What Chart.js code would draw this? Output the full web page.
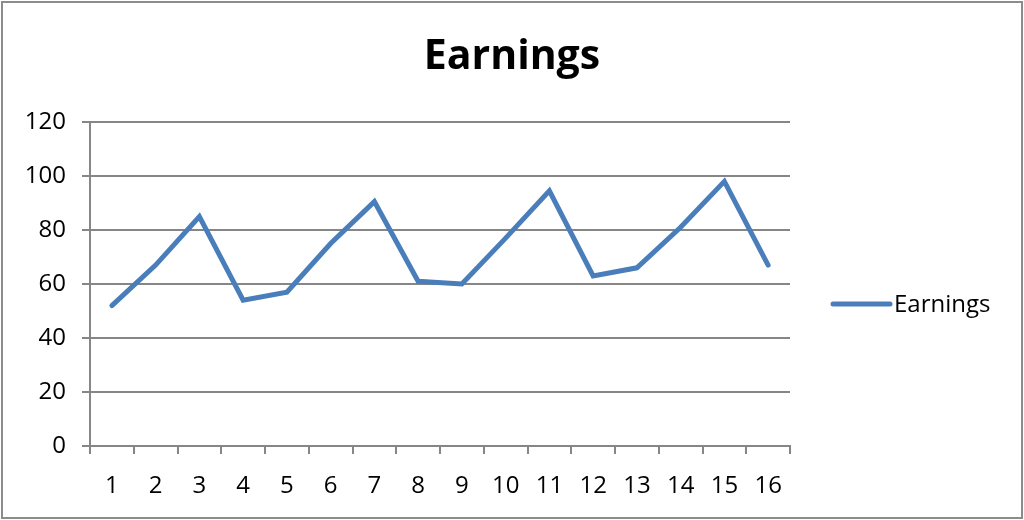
<!DOCTYPE html>
<html>
<head>
<meta charset="utf-8">
<script src="https://cdn.jsdelivr.net/npm/chart.js@4.4.1/dist/chart.umd.min.js"></script>
<style>
  html, body { margin: 0; padding: 0; background: #fff; }
  #wrap { position: relative; width: 1024px; height: 520px; overflow: hidden; }
  #frame { position: absolute; left: 1px; top: 1px; width: 1018px; height: 514px; border: 2px solid #8c8c8c; box-sizing: content-box; pointer-events: none; }
  #c { position: absolute; left: 0; top: 0; }
</style>
</head>
<body>
<div id="wrap">
  <canvas id="c" width="1024" height="520"></canvas>
  <div id="frame"></div>
</div>
<script>
const chartTitle = "Earnings";
const seriesName = "Earnings";
const categories = ["1","2","3","4","5","6","7","8","9","10","11","12","13","14","15","16"];
const earnings = [52, 67, 85, 54, 57, 75, 90.5, 61, 60, 77, 94.5, 63, 66, 81, 98, 67];
const yTicks = [0, 20, 40, 60, 80, 100, 120];

const FONT = "'Open Sans', 'Liberation Sans', sans-serif";
const LINE_COLOR = "#4a7ebb";
const GRID_COLOR = "#868686";

const titleAndLegend = {
  id: "titleAndLegend",
  afterDraw(chart) {
    const ctx = chart.ctx;
    const ds = chart.data.datasets[0];
    ctx.save();
    // title
    ctx.fillStyle = "#000";
    ctx.font = "bold 41px " + FONT;
    ctx.textAlign = "center";
    ctx.textBaseline = "alphabetic";
    ctx.fillText(chartTitle, 512, 69);
    // legend
    const y = 304;
    ctx.strokeStyle = ds.borderColor;
    ctx.lineWidth = 5;
    ctx.lineCap = "round";
    ctx.beginPath();
    ctx.moveTo(833, y);
    ctx.lineTo(890, y);
    ctx.stroke();
    ctx.fillStyle = "#000";
    ctx.font = "24px " + FONT;
    ctx.textBaseline = "middle";
    ctx.textAlign = "left";
    ctx.fillText(ds.label, 894, y + 1);
    ctx.restore();
  }
};

new Chart(document.getElementById("c"), {
  type: "line",
  data: {
    labels: categories,
    datasets: [{
      label: seriesName,
      data: earnings,
      borderColor: LINE_COLOR,
      backgroundColor: LINE_COLOR,
      borderWidth: 5,
      pointRadius: 0,
      pointHoverRadius: 0,
      tension: 0,
      borderJoinStyle: "miter",
      borderCapStyle: "round",
      fill: false
    }]
  },
  options: {
    responsive: false,
    animation: false,
    devicePixelRatio: 1,
    layout: { padding: { left: 0, right: 234, top: 122, bottom: 0 } },
    plugins: {
      legend: { display: false },
      tooltip: { enabled: false },
      title: { display: false }
    },
    scales: {
      x: {
        offset: true,
        grid: {
          offset: true,
          drawOnChartArea: false,
          drawTicks: true,
          tickLength: 8,
          color: GRID_COLOR,
          lineWidth: 2
        },
        border: { display: true, color: GRID_COLOR, width: 2 },
        ticks: {
          color: "#000",
          font: { family: FONT, size: 24 },
          padding: 18,
          maxRotation: 0,
          autoSkip: false
        },
        afterFit(scale) { scale.height = 74; }
      },
      y: {
        min: 0,
        max: 120,
        afterBuildTicks(scale) { scale.ticks = yTicks.map(v => ({ value: v })); },
        grid: {
          color: GRID_COLOR,
          lineWidth: 2,
          drawTicks: true,
          tickLength: 8
        },
        border: { display: true, color: GRID_COLOR, width: 2 },
        ticks: {
          color: "#000",
          font: { family: FONT, size: 24 },
          padding: 16
        },
        afterFit(scale) { scale.width = 90; }
      }
    }
  },
  plugins: [titleAndLegend]
});
</script>
</body>
</html>
